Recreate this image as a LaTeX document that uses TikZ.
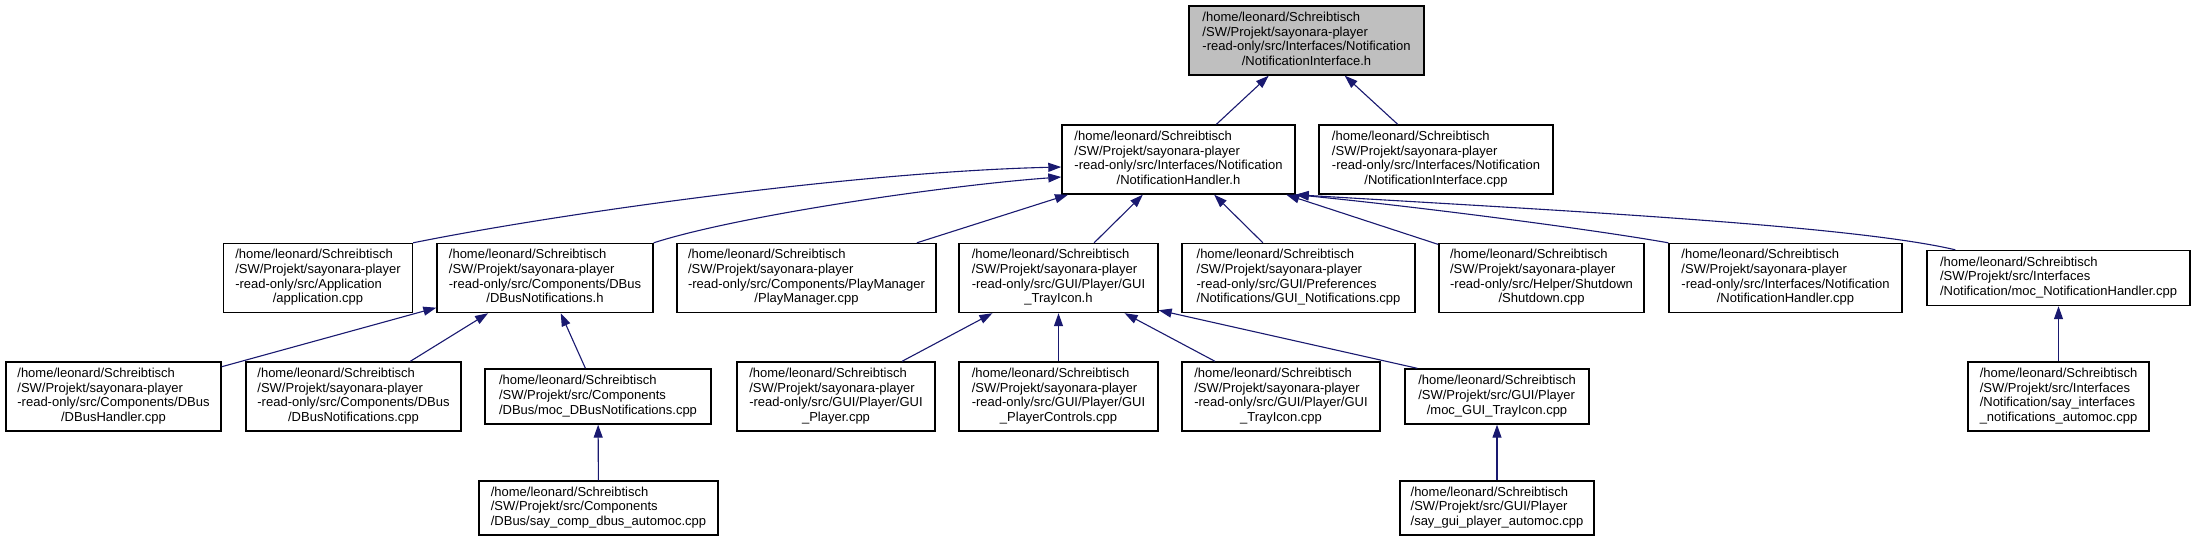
\documentclass[tikz,border=0pt]{standalone}
\usepackage{fontspec}
\setmainfont{Liberation Sans}
\usepackage{tikz}
\usetikzlibrary{arrows.meta, positioning}
\definecolor{incl-blue}{RGB}{25, 25, 112}
\definecolor{root-gray}{RGB}{191, 191, 191}
\newcommand{\flab}[2]{\begin{tabular}{@{}l@{}}#1\\\multicolumn{1}{@{}c@{}}{#2}\end{tabular}}
\newcommand{\rohome}{/home/leonard/Schreibtisch\\/SW/Projekt/sayonara-player\\-read-only/src/}

\begin{document}
\begin{tikzpicture}[
  x=1pt, y=-1pt,
  file/.style={rectangle,draw,line width=1.4pt,inner sep=0pt,minimum height=69pt,
               font=\fontsize{13}{14.7}\selectfont},
  short/.style={minimum height=55pt},
  arrow/.style={-{Triangle[length=13pt,width=9pt]},line width=1.1pt,draw=incl-blue}
]
  \path[fill=white] (0,0) rectangle (2196,541);

  \node[file, fill=root-gray, minimum width=235pt] (root) at (1306.5,40.5)
    {\flab{\rohome Interfaces/Notification}{/NotificationInterface.h}};

  \node[file, minimum width=233pt] (nh)    at (1178.5,159.5) {\flab{\rohome Interfaces/Notification}{/NotificationHandler.h}};
  \node[file, minimum width=234pt] (nicpp) at (1436,159.5)   {\flab{\rohome Interfaces/Notification}{/NotificationInterface.cpp}};

  \node[file, minimum width=189pt] (app)      at (318,278)    {\flab{\rohome Application}{/application.cpp}};
  \node[file, minimum width=216pt] (dbush)    at (545,278)    {\flab{\rohome Components/DBus}{/DBusNotifications.h}};
  \node[file, minimum width=259pt] (playman)  at (806.5,278)  {\flab{\rohome Components/PlayManager}{/PlayManager.cpp}};
  \node[file, minimum width=199pt] (trayh)    at (1058.5,278) {\flab{\rohome GUI/Player/GUI}{\_TrayIcon.h}};
  \node[file, minimum width=233pt] (guinotif) at (1298.5,278) {\flab{\rohome GUI/Preferences}{/Notifications/GUI\_Notifications.cpp}};
  \node[file, minimum width=205pt] (shutdown) at (1541.5,278) {\flab{\rohome Helper/Shutdown}{/Shutdown.cpp}};
  \node[file, minimum width=233pt] (nhcpp)    at (1785.5,278) {\flab{\rohome Interfaces/Notification}{/NotificationHandler.cpp}};
  \node[file, short, minimum width=263pt] (mocnh) at (2058.5,278)
    {\flab{/home/leonard/Schreibtisch\\/SW/Projekt/src/Interfaces}{/Notification/moc\_NotificationHandler.cpp}};

  \node[file, minimum width=215pt] (dbushandler) at (113.5,396.5)  {\flab{\rohome Components/DBus}{/DBusHandler.cpp}};
  \node[file, minimum width=215pt] (dbusncpp)    at (353.5,396.5)  {\flab{\rohome Components/DBus}{/DBusNotifications.cpp}};
  \node[file, short, minimum width=226pt] (mocdbus) at (598,396.5)
    {\flab{/home/leonard/Schreibtisch\\/SW/Projekt/src/Components}{/DBus/moc\_DBusNotifications.cpp}};
  \node[file, minimum width=198pt] (guiplayer)   at (836,396.5)    {\flab{\rohome GUI/Player/GUI}{\_Player.cpp}};
  \node[file, minimum width=199pt] (playerctrl)  at (1058.5,396.5) {\flab{\rohome GUI/Player/GUI}{\_PlayerControls.cpp}};
  \node[file, minimum width=198pt] (trayicpp)    at (1281,396.5)   {\flab{\rohome GUI/Player/GUI}{\_TrayIcon.cpp}};
  \node[file, short, minimum width=184pt] (mocgtray) at (1497,396.5)
    {\flab{/home/leonard/Schreibtisch\\/SW/Projekt/src/GUI/Player}{/moc\_GUI\_TrayIcon.cpp}};
  \node[file, minimum width=181pt] (sayint) at (2058.5,396.5)
    {\flab{/home/leonard/Schreibtisch\\/SW/Projekt/src/Interfaces\\/Notification/say\_interfaces}{\_notifications\_automoc.cpp}};

  \node[file, short, minimum width=239pt, minimum height=54pt] (saycomp) at (598.5,508)
    {\flab{/home/leonard/Schreibtisch\\/SW/Projekt/src/Components}{/DBus/say\_comp\_dbus\_automoc.cpp}};
  \node[file, short, minimum width=194pt, minimum height=54pt] (saygui) at (1497,508)
    {\flab{/home/leonard/Schreibtisch\\/SW/Projekt/src/GUI/Player}{/say\_gui\_player\_automoc.cpp}};

  % includes, arrow points at the included header
  \draw[arrow] (nh)    -- (root);
  \draw[arrow] (nicpp) -- (root);

  \draw[arrow] (app.north east) .. controls (550,215) and (850,172) .. ([yshift=-7.5pt]nh.west);
  \draw[arrow] (dbush.north east) .. controls (740,215) and (950,185) .. ([yshift=-17.5pt]nh.west);
  \draw[arrow] (playman)  -- (nh);
  \draw[arrow] (trayh)    -- (nh);
  \draw[arrow] (guinotif) -- (nh);
  \draw[arrow] (shutdown) -- (nh);
  \draw[arrow] (nhcpp.north west) .. controls (1590,229) and (1420,207) .. (nh.south east);
  \draw[arrow] ([xshift=29pt]mocnh.north west) .. controls (1850,225) and (1550,210) .. (nh.south east);

  \draw[arrow] (dbushandler) -- (dbush);
  \draw[arrow] (dbusncpp)    -- (dbush);
  \draw[arrow] (mocdbus)     -- (dbush);
  \draw[arrow] (saycomp)     -- (mocdbus);

  \draw[arrow] (guiplayer)  -- (trayh);
  \draw[arrow] (playerctrl) -- (trayh);
  \draw[arrow] (trayicpp)   -- (trayh);
  \draw[arrow] ([xshift=13pt]mocgtray.north west) -- ([yshift=3pt]trayh.south east);
  \draw[arrow] (saygui)     -- (mocgtray);

  \draw[arrow] (sayint) -- (mocnh);
\end{tikzpicture}
\end{document}
